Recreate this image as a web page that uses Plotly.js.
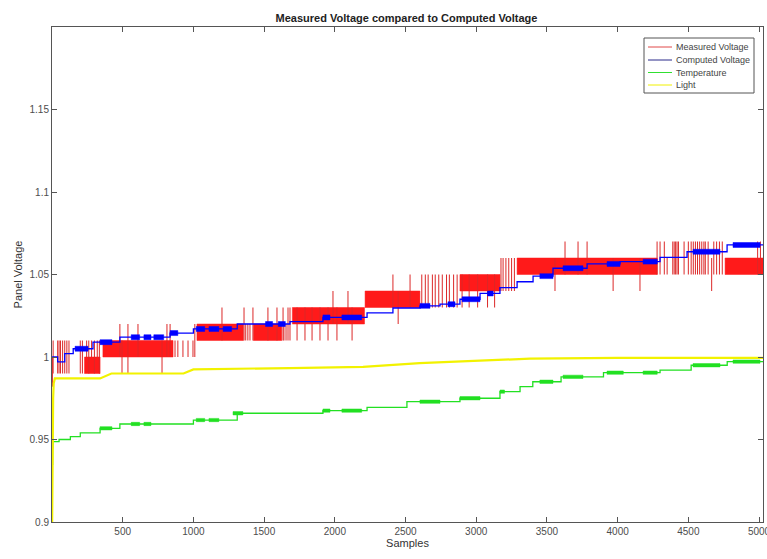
<!DOCTYPE html>
<html>
<head>
<meta charset="utf-8">
<script src="https://cdn.plot.ly/plotly-3.0.1.min.js"></script>
<style>html,body{margin:0;padding:0;background:#fff;}#chart{width:767px;height:559px;}</style>
</head>
<body>
<div id="chart"></div>
<script>
// ---- Series names (legend) ----
const seriesNames = ['Measured Voltage', 'Computed Voltage', 'Temperature', 'Light'];

// ---- Measured voltage: dense toggling blocks (sample start/end, low/high level) ----
const redBandStart = [230, 360, 1025, 1425, 1700, 2214, 2885, 3289, 4760];
const redBandEnd   = [340, 856, 1353, 1625, 2210, 2602, 3168, 4280, 5028];
const redBandLow   = [0.99, 1.00, 1.01, 1.01, 1.02, 1.03, 1.04, 1.05, 1.05];
const redBandHigh  = [1.00, 1.01, 1.02, 1.02, 1.03, 1.04, 1.05, 1.06, 1.06];
// ---- Measured voltage: isolated toggles (sample, low, high) ----
const redSpikeX = [3, 8, 40, 50, 60, 75, 90, 105, 120, 200, 215, 245, 260, 280, 300, 320, 335,
  480, 495, 537, 608, 778, 813, 835, 870, 890, 926, 962, 997, 1010,
  1202, 1358, 1370, 1385, 1400, 1421, 1527, 1591, 1634, 1640, 1655, 1669,
  1683, 1733, 1789, 1839, 1895, 1952, 1987, 2015, 2093, 2122,
  2411, 2448, 2532, 2615, 2640, 2660, 2690, 2710, 2735, 2760, 2790, 2810, 2840, 2865,
  2900, 2950, 3010, 3080, 3130, 3175, 3190, 3210, 3230, 3250, 3270,
  3557, 3628, 3720, 3784, 3968, 4158, 4279,
  4300, 4330, 4350, 4390, 4400, 4410, 4420, 4430, 4470, 4500, 4520, 4535, 4550, 4565, 4580, 4595, 4610,
  4620, 4640, 4665, 4680, 4700, 4720, 4740, 4990, 5010];
const redSpikeLow = [0.982, 0.99, 0.99, 0.99, 0.99, 0.99, 0.99, 0.99, 0.99, 0.99, 0.99, 1.00, 0.99, 1.00, 0.99, 1.00, 0.99,
  1.00, 0.99, 0.99, 1.00, 0.99, 1.00, 1.00, 1.00, 1.00, 1.00, 1.00, 1.00, 1.00,
  1.01, 1.01, 1.01, 1.01, 1.01, 1.01, 1.01, 1.01, 1.01, 1.01, 1.01, 1.01,
  1.01, 1.01, 1.01, 1.01, 1.01, 1.01, 1.02, 1.01, 1.02, 1.01,
  1.03, 1.02, 1.03, 1.03, 1.03, 1.03, 1.03, 1.03, 1.03, 1.03, 1.03, 1.03, 1.03, 1.03,
  1.03, 1.03, 1.03, 1.03, 1.03, 1.04, 1.04, 1.04, 1.04, 1.04, 1.04,
  1.04, 1.05, 1.05, 1.05, 1.04, 1.04, 1.05,
  1.05, 1.05, 1.05, 1.05, 1.05, 1.05, 1.05, 1.05, 1.05, 1.05, 1.05, 1.05, 1.05, 1.05, 1.05, 1.05, 1.05,
  1.05, 1.05, 1.04, 1.05, 1.05, 1.05, 1.05, 1.05, 1.05];
const redSpikeHigh = [1.00, 1.01, 1.01, 1.01, 1.01, 1.01, 1.01, 1.01, 1.01, 1.01, 1.01, 1.01, 1.01, 1.01, 1.01, 1.01, 1.01,
  1.02, 1.01, 1.02, 1.02, 1.01, 1.02, 1.02, 1.01, 1.01, 1.01, 1.01, 1.01, 1.02,
  1.03, 1.03, 1.02, 1.02, 1.02, 1.03, 1.03, 1.03, 1.03, 1.02, 1.02, 1.03,
  1.03, 1.03, 1.03, 1.03, 1.03, 1.03, 1.04, 1.03, 1.04, 1.03,
  1.05, 1.04, 1.05, 1.05, 1.05, 1.05, 1.05, 1.05, 1.05, 1.05, 1.05, 1.05, 1.05, 1.05,
  1.05, 1.05, 1.05, 1.05, 1.05, 1.06, 1.06, 1.06, 1.06, 1.06, 1.06,
  1.06, 1.07, 1.07, 1.07, 1.06, 1.06, 1.07,
  1.07, 1.07, 1.06, 1.07, 1.07, 1.07, 1.07, 1.07, 1.07, 1.07, 1.07, 1.07, 1.07, 1.07, 1.07, 1.07, 1.07,
  1.07, 1.07, 1.06, 1.07, 1.07, 1.07, 1.07, 1.07, 1.07];

// ---- Computed voltage (step line + dense toggling patches) ----
const blueX = [1, 40, 90, 150, 290, 480, 835, 1000, 1310, 1683, 1916, 2228, 2411, 2602, 2744, 2885, 3027, 3168, 3289, 3402, 3543, 3784, 4017, 4300, 4491, 4774, 5028];
const blueY = [1.000, 0.997, 1.002, 1.005, 1.009, 1.012, 1.0145, 1.017, 1.020, 1.0214, 1.024, 1.0267, 1.0297, 1.031, 1.032, 1.035, 1.0386, 1.042, 1.0456, 1.049, 1.0538, 1.0564, 1.0578, 1.0604, 1.0638, 1.0679, 1.0679];
const bluePatchStart = [163, 340, 560, 650, 720, 835, 1020, 1110, 1210, 1510, 1600, 1916, 2050, 2602, 2800, 2900, 3080, 3450, 3614, 3925, 4180, 4533, 4816];
const bluePatchEnd   = [255, 424, 620, 700, 790, 890, 1080, 1180, 1270, 1560, 1650, 1966, 2190, 2673, 2850, 3027, 3120, 3543, 3755, 4017, 4280, 4724, 5007];
const bluePatchLow   = [1.0035, 1.0075, 1.0105, 1.0105, 1.0105, 1.013, 1.0155, 1.0155, 1.0155, 1.0185, 1.0185, 1.0225, 1.0225, 1.0295, 1.0305, 1.0335, 1.037, 1.0475, 1.0523, 1.0549, 1.0563, 1.0623, 1.0664];
const bluePatchHigh  = [1.0065, 1.0105, 1.0135, 1.0135, 1.0135, 1.016, 1.0185, 1.0185, 1.0185, 1.0215, 1.0215, 1.0255, 1.0255, 1.0325, 1.0335, 1.0365, 1.040, 1.0505, 1.0553, 1.0579, 1.0593, 1.0653, 1.0694];

// ---- Temperature (step line + patches) ----
const greenX = [1, 2, 4, 6, 50, 130, 200, 340, 480, 1000, 1310, 1916, 2228, 2510, 2885, 3168, 3310, 3400, 3600, 3900, 4300, 4520, 4775, 5028];
const greenY = [0.920, 0.935, 0.945, 0.9487, 0.950, 0.9517, 0.954, 0.9568, 0.9594, 0.9618, 0.9659, 0.9675, 0.9695, 0.9729, 0.975, 0.979, 0.982, 0.985, 0.988, 0.9905, 0.992, 0.995, 0.9972, 0.9972];
const greenPatchStart = [340, 560, 650, 1020, 1110, 1280, 1916, 2050, 2602, 2885, 3168, 3450, 3614, 3925, 4180, 4533, 4816];
const greenPatchEnd   = [424, 620, 700, 1080, 1180, 1350, 1966, 2190, 2744, 3027, 3200, 3543, 3755, 4040, 4280, 4724, 5007];
const greenPatchLow   = [0.9558, 0.9584, 0.9584, 0.9608, 0.9608, 0.9649, 0.9665, 0.9665, 0.9719, 0.974, 0.978, 0.984, 0.987, 0.9895, 0.9895, 0.994, 0.9962];
const greenPatchHigh  = [0.9578, 0.9604, 0.9604, 0.9628, 0.9628, 0.9669, 0.9685, 0.9685, 0.9739, 0.976, 0.980, 0.986, 0.989, 0.9915, 0.9915, 0.996, 0.9982];

// ---- Light ----
const yellowX = [1, 3, 5, 8, 12, 20, 340, 420, 930, 1000, 1680, 2200, 2600, 3000, 3380, 4000, 5028];
const yellowY = [0.900, 0.930, 0.960, 0.975, 0.984, 0.987, 0.987, 0.990, 0.990, 0.9925, 0.9933, 0.994, 0.9963, 0.9978, 0.999, 0.9995, 0.9995];

const xTicks = [500, 1000, 1500, 2000, 2500, 3000, 3500, 4000, 4500, 5000];
const yTicks = [0.9, 0.95, 1, 1.05, 1.1, 1.15];
const yTickText = ['0.9', '0.95', '1', '1.05', '1.1', '1.15'];

function band(starts, ends, lows, highs, color) {
  const x = [], y = [];
  for (let i = 0; i < starts.length; i++) {
    x.push(starts[i], ends[i], ends[i], starts[i], starts[i], null);
    y.push(lows[i], lows[i], highs[i], highs[i], lows[i], null);
  }
  return {type: 'scatter', mode: 'lines', x, y, fill: 'toself', fillcolor: color,
          line: {width: 0.5, color}, showlegend: false, hoverinfo: 'skip'};
}
function spikes(xs, lows, highs, color) {
  const x = [], y = [];
  for (let i = 0; i < xs.length; i++) {
    x.push(xs[i], xs[i], null);
    y.push(lows[i], highs[i], null);
  }
  return {type: 'scatter', mode: 'lines', x, y, line: {width: 1, color}, connectgaps: false, showlegend: false};
}

const RED = '#ff1a1a', BLUE = '#0000ff', GREEN = '#22e022', YELLOW = '#f2f200';
const legendColors = ['#e04848', '#2a2a8a', '#30e030', '#f0f000'];

const traces = [
  band(redBandStart, redBandEnd, redBandLow, redBandHigh, RED),
  spikes(redSpikeX, redSpikeLow, redSpikeHigh, 'rgb(220,40,40)'),
  {type: 'scatter', mode: 'lines', x: blueX, y: blueY, name: seriesNames[1], showlegend: false,
   line: {width: 1.3, color: BLUE, shape: 'hv'}},
  band(bluePatchStart, bluePatchEnd, bluePatchLow, bluePatchHigh, BLUE),
  {type: 'scatter', mode: 'lines', x: greenX, y: greenY, name: seriesNames[2], showlegend: false,
   line: {width: 1.3, color: GREEN, shape: 'hv'}},
  band(greenPatchStart, greenPatchEnd, greenPatchLow, greenPatchHigh, GREEN),
  {type: 'scatter', mode: 'lines', x: yellowX, y: yellowY, name: seriesNames[3], showlegend: false,
   line: {width: 2.2, color: YELLOW}}
];

// ---- custom compact legend (MATLAB-style box) ----
const PL = 52, PR = 763, PT = 27, PB = 522;
const px = v => (v - PL) / (PR - PL);
const py = v => (PB - v) / (PB - PT);
const shapes = [{type: 'rect', xref: 'paper', yref: 'paper', x0: px(644), x1: px(754), y0: py(93), y1: py(38),
                 line: {color: '#555', width: 1}, fillcolor: '#fff', layer: 'above'}];
const annotations = [];
const rowY = [47, 60, 72.5, 85];
seriesNames.forEach((n, i) => {
  shapes.push({type: 'line', xref: 'paper', yref: 'paper', x0: px(648), x1: px(672), y0: py(rowY[i]), y1: py(rowY[i]),
               line: {color: legendColors[i], width: 1}, layer: 'above'});
  annotations.push({xref: 'paper', yref: 'paper', x: px(674), y: py(rowY[i]), xanchor: 'left', yanchor: 'middle',
                    text: n, showarrow: false, font: {family: 'Liberation Sans, Arial, sans-serif', size: 9, color: '#444'}});
});

const FONT = 'Liberation Sans, Arial, Helvetica, sans-serif';
const layout = {
  width: 767, height: 559,
  margin: {l: 52, r: 4, t: 27, b: 37},
  paper_bgcolor: '#fff', plot_bgcolor: '#fff',
  font: {family: FONT, size: 10, color: '#4d4d4d'},
  showlegend: false,
  title: {text: '<b>Measured Voltage compared to Computed Voltage</b>',
          font: {family: FONT, size: 11, color: '#222'},
          x: 0.53, xanchor: 'center', y: 1 - 18 / 559, yanchor: 'middle', yref: 'container'},
  xaxis: {range: [0, 5028], tickvals: xTicks, ticktext: xTicks.map(String), ticklabeloverflow: 'allow',
          ticks: 'inside', ticklen: 5, tickcolor: '#555', showline: true, linecolor: '#555', linewidth: 1,
          mirror: 'ticks', showgrid: false, zeroline: false,
          tickfont: {family: FONT, size: 10, color: '#4d4d4d'},
          title: {text: 'Samples', font: {family: FONT, size: 11, color: '#333'}, standoff: 3}},
  yaxis: {range: [0.9, 1.2], tickvals: yTicks, ticktext: yTickText,
          ticks: 'inside', ticklen: 5, tickcolor: '#555', showline: true, linecolor: '#555', linewidth: 1,
          mirror: 'ticks', showgrid: false, zeroline: false,
          tickfont: {family: FONT, size: 10, color: '#4d4d4d'},
          title: {text: 'Panel Voltage', font: {family: FONT, size: 11, color: '#333'}, standoff: 4}},
  shapes, annotations
};
Plotly.newPlot('chart', traces, layout, {displayModeBar: false, staticPlot: true});
</script>
</body>
</html>
